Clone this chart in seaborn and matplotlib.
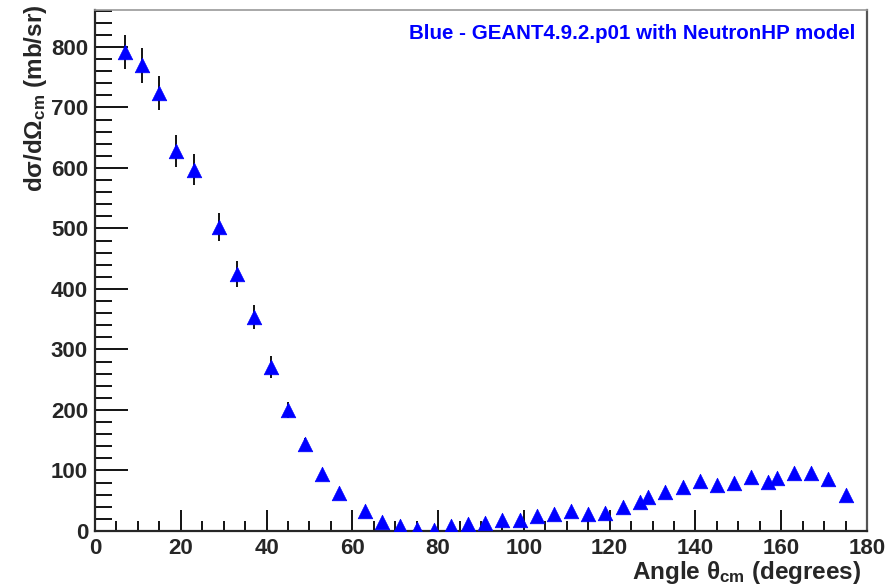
import numpy as np
import pandas as pd
import seaborn as sns
import matplotlib.pyplot as plt
from matplotlib.ticker import MultipleLocator

# Angle (degrees, cm) and cross section (mb/sr)
angle = [7, 11, 15, 19, 23, 29, 33, 37, 41, 45, 49, 53, 57, 63, 67, 71, 75, 79,
         83, 87, 91, 95, 99, 103, 107, 111, 115, 119, 123, 127, 129, 133, 137,
         141, 145, 149, 153, 157, 159, 163, 167, 171, 175]
xsec = [792, 770, 724, 628, 597, 502, 425, 354, 271, 200, 144, 94, 63, 33, 15,
        8, 3, 2, 8, 11, 14, 19, 19, 24, 28, 33, 28, 30, 40, 48, 56, 65, 73,
        83, 76, 79, 89, 81, 88, 96, 96, 86, 60]
err = [28, 29, 28, 26, 26, 23, 21, 20, 18, 14, 10, 7, 5, 3, 2,
       1, 1, 1, 1, 1, 1, 1, 1, 1, 1, 1, 1, 1, 2, 2, 2, 2, 2,
       3, 3, 3, 3, 3, 3, 3, 3, 3, 2]

legend_text = "Blue - GEANT4.9.2.p01 with NeutronHP model"

df = pd.DataFrame({"angle": angle, "xsec": xsec, "err": err})

sns.set_style("ticks")
plt.rcParams['font.family'] = ['Liberation Sans', 'DejaVu Sans']
plt.rcParams['font.weight'] = 'bold'
plt.rcParams['mathtext.fontset'] = 'custom'
plt.rcParams['mathtext.rm'] = 'Liberation Sans:bold'
plt.rcParams['mathtext.it'] = 'Liberation Sans:bold'
plt.rcParams['mathtext.bf'] = 'Liberation Sans:bold'
plt.rcParams['mathtext.default'] = 'bf'

fig = plt.figure(figsize=(8.93, 5.87), dpi=100)
ax = fig.add_axes([95 / 893, 1 - 531 / 587, 772 / 893, 521 / 587])

ax.errorbar(df["angle"], df["xsec"], yerr=df["err"], fmt="none",
            ecolor="black", elinewidth=1.3, capsize=0, zorder=2)
sns.scatterplot(data=df, x="angle", y="xsec", marker="^", color="blue",
                s=110, edgecolor="blue", linewidth=0.5, ax=ax, zorder=3,
                legend=False)

ax.set_xlim(0, 180)
ax.set_ylim(0, 861)
ax.xaxis.set_major_locator(MultipleLocator(20))
ax.xaxis.set_minor_locator(MultipleLocator(5))
ax.yaxis.set_major_locator(MultipleLocator(100))
ax.yaxis.set_minor_locator(MultipleLocator(20))
ax.tick_params(axis="both", which="both", direction="in", labelsize=16,
               width=1.3, color="black")
ax.tick_params(axis="x", which="major", length=15, pad=5)
ax.tick_params(axis="x", which="minor", length=7)
ax.tick_params(axis="y", which="major", length=24, pad=5)
ax.tick_params(axis="y", which="minor", length=12)
for lab in ax.get_xticklabels() + ax.get_yticklabels():
    lab.set_fontweight("bold")

ax.spines["left"].set_linewidth(1.6)
ax.spines["bottom"].set_linewidth(1.6)
ax.spines["top"].set_color("#999999")
ax.spines["right"].set_color("#555555")
ax.spines["top"].set_linewidth(1.2)
ax.spines["right"].set_linewidth(1.6)

ax.set_xlabel(r"Angle $\theta_{cm}$ (degrees)", fontsize=17.5, fontweight="bold",
              ha="right", x=0.993, labelpad=0)
ax.set_ylabel(r"d$\sigma$/d$\Omega_{cm}$ (mb/sr)", fontsize=17.5,
              fontweight="bold", ha="right")
ax.yaxis.set_label_coords(-0.059, 1.01)

ax.text(0.985, 0.955, legend_text, transform=ax.transAxes, ha="right",
        va="center", color="blue", fontsize=14.8, fontweight="bold")

fig.savefig("out.png", dpi=100)
